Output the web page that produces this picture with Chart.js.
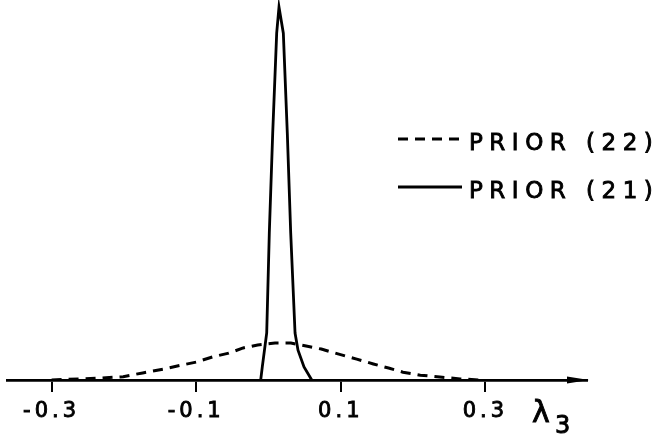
<!DOCTYPE html>
<html>
<head>
<meta charset="utf-8">
<script src="https://cdn.jsdelivr.net/npm/chart.js@4/dist/chart.umd.min.js"></script>
<style>
  html, body { margin: 0; padding: 0; background: #fff; }
  #wrap { width: 654px; height: 435px; position: relative; }
</style>
</head>
<body>
<div id="wrap"><canvas id="c" width="654" height="435"></canvas></div>
<script>
// ---- data ----
const xTicks = [-0.3, -0.1, 0.1, 0.3];
const xTickLabels = ['-0.3', '-0.1', '0.1', '0.3'];
const seriesNames = ['PRIOR (22)', 'PRIOR (21)'];

// PRIOR (22): broad dashed curve
const prior22X = [-0.300, -0.261, -0.233, -0.201, -0.174, -0.146, -0.120, -0.100, -0.077, -0.055,
                  -0.035, -0.015, 0.009, 0.031, 0.052, 0.073, 0.096, 0.122, 0.145, 0.166,
                  0.186, 0.210, 0.237, 0.265, 0.292];
const prior22Y = [0.00, 0.03, 0.05, 0.09, 0.19, 0.29, 0.40, 0.48, 0.62, 0.72,
                  0.86, 0.94, 0.99, 0.99, 0.91, 0.83, 0.70, 0.56, 0.43, 0.32,
                  0.21, 0.13, 0.08, 0.03, 0.00];

// PRIOR (21): narrow solid peak
const prior21X = [-0.0108, -0.0086, -0.0025, 0.0011, 0.0058, 0.0113, 0.0145,
                  0.0205, 0.0260, 0.0307, 0.0367, 0.0408, 0.0491, 0.0598];
const prior21Y = [0.00, 0.35, 1.26, 3.94, 6.62, 9.30, 10.00,
                  9.30, 6.62, 3.94, 1.26, 0.80, 0.35, 0.00];

const xMin = -0.3617, xMax = 0.4405;
const yMin = 0, yMax = 10.19;

const toPts = (xs, ys) => xs.map((x, i) => ({ x: x, y: ys[i] }));

const FONT = '"DejaVu Sans", "Liberation Sans", sans-serif';

const decor = {
  id: 'decor',
  beforeDraw(chart) {
    chart.ctx.letterSpacing = '4px';
  },
  afterDraw(chart) {
    const ctx = chart.ctx;
    const area = chart.chartArea;
    ctx.save();
    // arrow head at the right end of the axis
    const yb = area.bottom;
    ctx.fillStyle = '#000';
    ctx.beginPath();
    ctx.moveTo(area.right + 2, yb);
    ctx.lineTo(area.right - 20, yb - 3.5);
    ctx.lineTo(area.right - 20, yb + 3.5);
    ctx.closePath();
    ctx.fill();

    // axis label lambda_3
    ctx.letterSpacing = '0px';
    ctx.fillStyle = '#000';
    ctx.strokeStyle = '#000';
    ctx.lineWidth = 0.9;
    ctx.textAlign = 'left';
    ctx.textBaseline = 'alphabetic';
    ctx.font = '30px ' + FONT;
    ctx.fillText('λ', area.right - 55, yb + 42);
    ctx.strokeText('λ', area.right - 55, yb + 42);
    ctx.font = '24px ' + FONT;
    ctx.fillText('3', area.right - 32, yb + 53);
    ctx.strokeText('3', area.right - 32, yb + 53);

    // legend
    const ds = chart.data.datasets;
    const rows = [139, 187];
    ds.forEach((d, i) => {
      const y = rows[i];
      ctx.strokeStyle = '#000';
      ctx.lineWidth = 2.8;
      ctx.setLineDash(d.borderDash || []);
      ctx.beginPath();
      ctx.moveTo(398, y);
      ctx.lineTo(462, y);
      ctx.stroke();
      ctx.setLineDash([]);
      ctx.letterSpacing = '6.5px';
      ctx.font = '23px ' + FONT;
      ctx.textBaseline = 'alphabetic';
      ctx.lineWidth = 0.9;
      ctx.fillText(d.label, 469, y + 11);
      ctx.strokeText(d.label, 469, y + 11);
    });
    ctx.restore();
  }
};

new Chart(document.getElementById('c'), {
  type: 'line',
  data: {
    datasets: [
      {
        label: seriesNames[0],
        data: toPts(prior22X, prior22Y),
        borderColor: '#000',
        borderWidth: 3,
        borderDash: [10, 7],
        pointRadius: 0,
        tension: 0,
        fill: false
      },
      {
        label: seriesNames[1],
        data: toPts(prior21X, prior21Y),
        borderColor: '#000',
        borderWidth: 2.8,
        pointRadius: 0,
        tension: 0,
        fill: false
      }
    ]
  },
  options: {
    responsive: false,
    animation: false,
    devicePixelRatio: 1,
    layout: { padding: { left: 7, right: 67, top: 0, bottom: 0 } },
    plugins: { legend: { display: false }, tooltip: { enabled: false } },
    scales: {
      x: {
        type: 'linear',
        min: xMin,
        max: xMax,
        afterBuildTicks(scale) {
          scale.ticks = xTicks.map(v => ({ value: v }));
        },
        afterFit(scale) { scale.height = 55; },
        ticks: {
          autoSkip: false,
          maxRotation: 0,
          padding: 7,
          color: '#000',
          textStrokeColor: '#000',
          textStrokeWidth: 0.9,
          font: { family: FONT, size: 21 },
          callback(value) {
            const i = xTicks.findIndex(t => Math.abs(t - value) < 1e-9);
            return i >= 0 ? xTickLabels[i] : '';
          }
        },
        grid: {
          display: true,
          drawOnChartArea: false,
          drawTicks: true,
          tickLength: 12,
          color: '#000',
          lineWidth: 2
        },
        border: { display: true, color: '#000', width: 2.8 }
      },
      y: {
        type: 'linear',
        display: false,
        min: yMin,
        max: yMax
      }
    }
  },
  plugins: [decor]
});
</script>
</body>
</html>
